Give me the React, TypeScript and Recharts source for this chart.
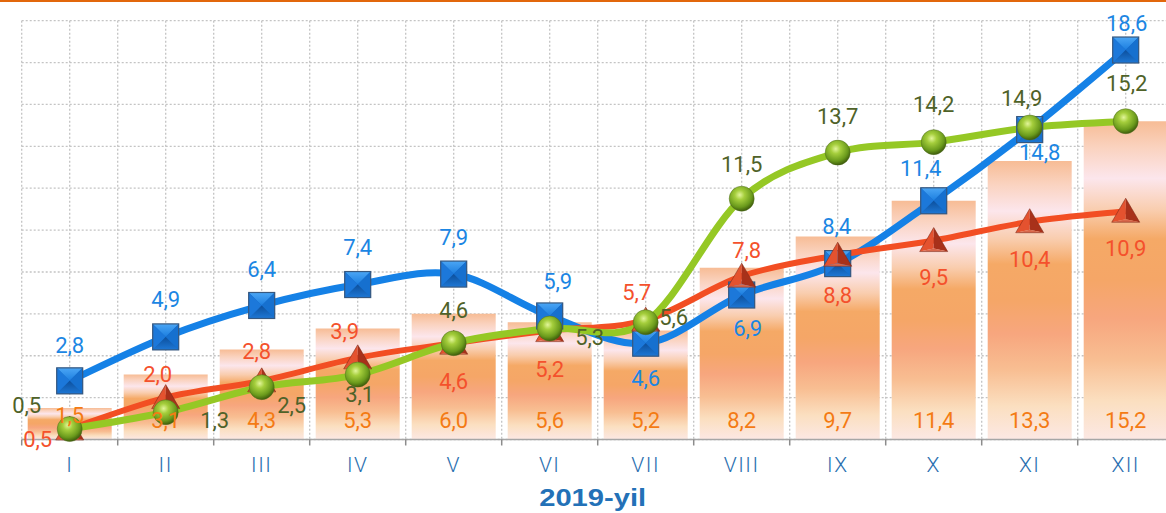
import React from 'react';
import { ComposedChart, Bar, Line, XAxis, YAxis, CartesianGrid, LabelList } from 'recharts';

const MONTHS = ['I', 'II', 'III', 'IV', 'V', 'VI', 'VII', 'VIII', 'IX', 'X', 'XI', 'XII'];
const BAR_VALUES = [1.5, 3.1, 4.3, 5.3, 6.0, 5.6, 5.2, 8.2, 9.7, 11.4, 13.3, 15.2];
const BLUE_VALUES = [2.8, 4.9, 6.4, 7.4, 7.9, 5.9, 4.6, 6.9, 8.4, 11.4, 14.8, 18.6];
const RED_VALUES = [0.5, 2.0, 2.8, 3.9, 4.6, 5.2, 5.7, 7.8, 8.8, 9.5, 10.4, 10.9];
const GREEN_VALUES = [0.5, 1.3, 2.5, 3.1, 4.6, 5.3, 5.6, 11.5, 13.7, 14.2, 14.9, 15.2];
const Y_TICKS = [0, 2, 4, 6, 8, 10, 12, 14, 16, 18, 20];
const TITLE = '2019-yil';

// label placement relative to each point (dx, dy of label centre)
const BLUE_LABEL_POS = [[0, -35], [0, -37], [0, -36], [0, -37], [0, -37], [8, -34], [0, 35], [6, 33], [-1, -37], [-13, -32], [10, 23], [1, -27]];
const RED_LABEL_POS = [[-32, 10], [-8, -23], [-5, -29], [-13, -26], [0, 38], [0, 39], [-9, -28], [5, -26], [0, 40], [0, 37], [0, 38], [0, 37]];
const GREEN_LABEL_POS = [[-43, -24], [49, 8], [30, 18], [2, 20], [0, -33], [40, 9], [28, -5], [0, -34], [0, -36], [0, -38], [-8, -29], [1, -38]];

const CHART_W = 1180;
const CHART_H = 513;
const MARGIN = { top: 20.7, right: 6.3, bottom: 0, left: 21.7 };
const PLOT_W = CHART_W - MARGIN.left - MARGIN.right;
const BAND = PLOT_W / MONTHS.length;

const FONT = 'Roboto, "Noto Sans", sans-serif';

const data = MONTHS.map((m, i) => ({
  month: m,
  bar: BAR_VALUES[i],
  blue: BLUE_VALUES[i],
  red: RED_VALUES[i],
  green: GREEN_VALUES[i],
}));

const fmt = (v: any) => Number(v).toFixed(1).replace('.', ',');

// Excel-like smoothing (Catmull-Rom / cardinal with tension 0)
const excelCurve = (context: any) => {
  let pts: number[][] = [];
  return {
    areaStart() {},
    areaEnd() {},
    lineStart() {
      pts = [];
    },
    point(x: number, y: number) {
      pts.push([+x, +y]);
    },
    lineEnd() {
      if (!pts.length) return;
      context.moveTo(pts[0][0], pts[0][1]);
      const t = 1 / 6;
      for (let i = 0; i < pts.length - 1; i++) {
        const p0 = pts[Math.max(i - 1, 0)];
        const p1 = pts[i];
        const p2 = pts[i + 1];
        const p3 = pts[Math.min(i + 2, pts.length - 1)];
        context.bezierCurveTo(
          p1[0] + (p2[0] - p0[0]) * t,
          p1[1] + (p2[1] - p0[1]) * t,
          p2[0] - (p3[0] - p1[0]) * t,
          p2[1] - (p3[1] - p1[1]) * t,
          p2[0],
          p2[1]
        );
      }
    },
  };
};

const BlueSquare = (props: any) => {
  const { cx, cy, index } = props;
  if (cx == null || cy == null) return null;
  const h = 13;
  const x0 = cx - h, x1 = cx + h, y0 = cy - h, y1 = cy + h;
  return (
    <g key={`b-${index}`}>
      <rect x={x0} y={y0} width={2 * h} height={2 * h} fill="#1668C4" />
      <polygon points={`${x0},${y0} ${x1},${y0} ${cx},${cy}`} fill="url(#sqTop)" />
      <polygon points={`${x0},${y0} ${x0},${y1} ${cx},${cy}`} fill="#1C78DA" />
      <polygon points={`${x1},${y0} ${x1},${y1} ${cx},${cy}`} fill="#1670CF" />
      <polygon points={`${x0},${y1} ${x1},${y1} ${cx},${cy}`} fill="url(#sqBottom)" />
      <rect x={x0} y={y0} width={2 * h} height={2 * h} fill="none" stroke="#37587F" strokeWidth={1.2} />
    </g>
  );
};

const RedTriangle = (props: any) => {
  const { cx, cy, index } = props;
  if (cx == null || cy == null) return null;
  const top = cy - 13;
  const base = cy + 11;
  const hw = 14;
  return (
    <g key={`r-${index}`}>
      <polygon points={`${cx},${top} ${cx - hw},${base} ${cx},${base - 3}`} fill="#E4522F" />
      <polygon points={`${cx},${top} ${cx},${base - 3} ${cx + hw},${base}`} fill="#A8311A" />
      <polygon points={`${cx - hw},${base} ${cx},${base - 3} ${cx + hw},${base}`} fill="#D9684C" />
      <polygon points={`${cx},${top} ${cx - hw},${base} ${cx + hw},${base}`} fill="none" stroke="#7E2A18" strokeWidth={0.8} strokeOpacity={0.7} />
    </g>
  );
};

const GreenSphere = (props: any) => {
  const { cx, cy, index } = props;
  if (cx == null || cy == null) return null;
  return <circle key={`g-${index}`} cx={cx} cy={cy} r={12.5} fill="url(#sphere)" stroke="#4F6A1C" strokeWidth={0.8} strokeOpacity={0.6} />;
};

const pointLabel = (values: number[], pos: number[][], color: string) => (props: any) => {
  const vb = props.viewBox || {};
  const x = vb.x ?? props.x;
  const y = vb.y ?? props.y;
  let idx = typeof props.index === 'number' ? props.index : values.indexOf(Number(props.value));
  if (idx < 0) idx = 0;
  const [dx, dy] = pos[idx] || [0, -30];
  return (
    <text
      key={`l-${color}-${idx}`}
      x={x + dx}
      y={y + dy}
      textAnchor="middle"
      dominantBaseline="central"
      fill={color}
      fontSize={22}
      fontFamily={FONT}
    >
      {fmt(props.value)}
    </text>
  );
};

const barLabel = (props: any) => {
  const vb = props.viewBox || {};
  const x = vb.x ?? props.x;
  const y = vb.y ?? props.y;
  const w = vb.width ?? props.width;
  const h = vb.height ?? props.height;
  const bottom = y + h;
  const ly = h < 40 ? y + 7 : bottom - 19;
  return (
    <text
      key={`bl-${x}`}
      x={x + w / 2}
      y={ly}
      textAnchor="middle"
      dominantBaseline="central"
      fill="#F47B14"
      fontSize={22}
      fontFamily={FONT}
    >
      {fmt(props.value)}
    </text>
  );
};

const MonthTick = (props: any) => {
  const { x, y, payload } = props;
  return (
    <g>
      <line x1={x - BAND / 2} x2={x - BAND / 2} y1={y} y2={y + 6} stroke="#8C8C8C" strokeWidth={1.5} />
      <text x={x} y={y + 25} textAnchor="middle" dominantBaseline="central" fill="#2A6FB0" fontSize={21} fontWeight={300} letterSpacing={1.5} fontFamily={FONT}>
        {payload.value}
      </text>
    </g>
  );
};

const TitleLabel = (props: any) => {
  const vb = props.viewBox || {};
  const cx = vb.x + vb.width / 2 - 5;
  return (
    <text
      x={cx}
      y={497}
      textAnchor="middle"
      dominantBaseline="central"
      fill="#2371B7"
      fontSize={24}
      fontWeight={700}
      fontFamily='"Liberation Sans", Arial, sans-serif'
      textLength={107}
      lengthAdjust="spacingAndGlyphs"
    >
      {TITLE}
    </text>
  );
};

export default function App() {
  return (
    <div style={{ position: 'fixed', left: 0, top: 0, width: 1166, height: 513, overflow: 'hidden', background: '#fff' }}>
      <div style={{ position: 'absolute', left: 0, top: 0, width: 1166, height: 2, background: '#E2670C' }} />
      <ComposedChart width={CHART_W} height={CHART_H} data={data} margin={MARGIN}>
        <defs>
          <linearGradient id="barGrad" x1="0" y1="0" x2="0" y2="1">
            <stop offset="0" stopColor="#F7BC95" />
            <stop offset="0.08" stopColor="#FAD2BE" />
            <stop offset="0.18" stopColor="#FCE6EC" />
            <stop offset="0.28" stopColor="#F9CDAE" />
            <stop offset="0.37" stopColor="#F5A966" />
            <stop offset="0.5" stopColor="#F5A667" />
            <stop offset="0.62" stopColor="#F7A67E" />
            <stop offset="0.75" stopColor="#F8BE92" />
            <stop offset="0.88" stopColor="#FBDFC0" />
            <stop offset="1" stopColor="#FCE8E4" />
          </linearGradient>
          <radialGradient id="sphere" cx="0.42" cy="0.35" r="0.65">
            <stop offset="0" stopColor="#E2F59A" />
            <stop offset="0.3" stopColor="#A5CE3C" />
            <stop offset="0.75" stopColor="#6A9A1C" />
            <stop offset="1" stopColor="#3F5E0C" />
          </radialGradient>
          <linearGradient id="sqTop" x1="0" y1="0" x2="0" y2="1">
            <stop offset="0" stopColor="#4BA6F5" />
            <stop offset="1" stopColor="#1C7EDF" />
          </linearGradient>
          <linearGradient id="sqBottom" x1="0" y1="0" x2="0" y2="1">
            <stop offset="0" stopColor="#0C4F9C" />
            <stop offset="1" stopColor="#1E78D6" />
          </linearGradient>
        </defs>
        <CartesianGrid
          stroke="#C4C4C4"
          strokeDasharray="2 2"
          strokeWidth={1.3}
          verticalCoordinatesGenerator={({ offset }: any) =>
            Array.from({ length: MONTHS.length * 2 }, (_, k) => offset.left + (k * offset.width) / (MONTHS.length * 2))
          }
        />
        <XAxis
          dataKey="month"
          height={CHART_H - 439.5}
          tickSize={0}
          tickMargin={0}
          tickLine={false}
          axisLine={{ stroke: '#A6A6A6', strokeWidth: 1.5 }}
          tick={<MonthTick />}
          interval={0}
          label={{ content: TitleLabel }}
        />
        <YAxis hide domain={[0, 20]} ticks={Y_TICKS} />
        <Bar dataKey="bar" barSize={84} fill="url(#barGrad)" isAnimationActive={false}>
          <LabelList dataKey="bar" content={barLabel} />
        </Bar>
        <Line
          dataKey="blue"
          type={excelCurve as any}
          stroke="#1581E6"
          strokeWidth={7}
          dot={<BlueSquare />}
          activeDot={false}
          isAnimationActive={false}
        >
          <LabelList dataKey="blue" content={pointLabel(BLUE_VALUES, BLUE_LABEL_POS, '#1C86E3')} />
        </Line>
        <Line
          dataKey="red"
          type={excelCurve as any}
          stroke="#F24E23"
          strokeWidth={6}
          dot={<RedTriangle />}
          activeDot={false}
          isAnimationActive={false}
        >
          <LabelList dataKey="red" content={pointLabel(RED_VALUES, RED_LABEL_POS, '#F4512C')} />
        </Line>
        <Line
          dataKey="green"
          type={excelCurve as any}
          stroke="#95C825"
          strokeWidth={7}
          dot={<GreenSphere />}
          activeDot={false}
          isAnimationActive={false}
        >
          <LabelList dataKey="green" content={pointLabel(GREEN_VALUES, GREEN_LABEL_POS, '#4F6228')} />
        </Line>
      </ComposedChart>
    </div>
  );
}
